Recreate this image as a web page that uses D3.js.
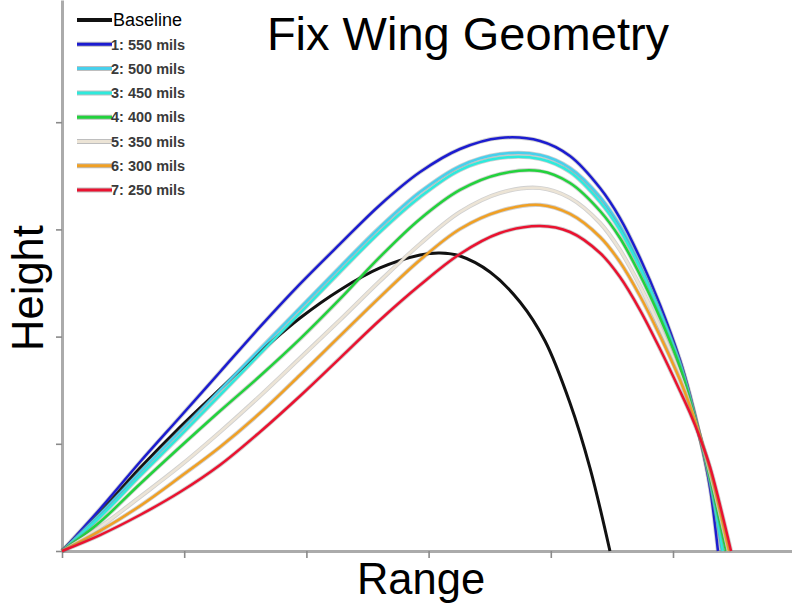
<!DOCTYPE html>
<html><head><meta charset="utf-8">
<script src="https://cdn.jsdelivr.net/npm/d3@7"></script>
<style>html,body{margin:0;padding:0;background:#fff;} svg{display:block;}</style>
</head><body>
<script>
// ---- data ----
const titleText = "Fix Wing Geometry";
const xLabel = "Range";
const yLabel = "Height";
const xTicks = [0, 1, 2, 3, 4, 5];
const yTicks = [0, 1, 2, 3, 4];

const seriesNames = ["1: 550 mils", "2: 500 mils", "3: 450 mils", "4: 400 mils", "5: 350 mils", "6: 300 mils", "7: 250 mils"];
const seriesColors = ["#1c1cd0", "#48d0ec", "#2eeadc", "#22d23c", "#ece4d6", "#f0a024", "#ea1230"];

const rangeX = [0, 0.311, 0.638, 0.966, 1.293, 1.620, 1.948, 2.275, 2.602, 2.930, 3.257, 3.584, 3.912, 4.157, 4.403, 4.566, 4.730, 4.894, 5.057, 5.139, 5.221, 5.303];
const h550 = [0, 0.392, 0.830, 1.250, 1.670, 2.090, 2.491, 2.864, 3.228, 3.535, 3.750, 3.853, 3.825, 3.685, 3.386, 3.106, 2.733, 2.295, 1.782, 1.455, 1.063, 0.588];
const h500 = [0, 0.345, 0.737, 1.119, 1.502, 1.884, 2.267, 2.649, 3.022, 3.349, 3.591, 3.703, 3.694, 3.573, 3.302, 3.032, 2.668, 2.239, 1.754, 1.437, 1.063, 0.644];
const h450 = [0, 0.317, 0.700, 1.073, 1.455, 1.838, 2.220, 2.603, 2.976, 3.302, 3.554, 3.666, 3.657, 3.535, 3.256, 2.994, 2.640, 2.220, 1.744, 1.427, 1.063, 0.662];
const h400 = [0, 0.271, 0.625, 0.970, 1.306, 1.632, 1.978, 2.351, 2.743, 3.097, 3.368, 3.517, 3.545, 3.433, 3.172, 2.920, 2.575, 2.174, 1.716, 1.409, 1.063, 0.681];
const h350 = [0, 0.224, 0.504, 0.793, 1.110, 1.446, 1.800, 2.155, 2.519, 2.864, 3.162, 3.340, 3.386, 3.293, 3.060, 2.808, 2.472, 2.080, 1.642, 1.371, 1.063, 0.718];
const h300 = [0, 0.187, 0.420, 0.690, 0.970, 1.287, 1.642, 2.006, 2.369, 2.715, 3.004, 3.172, 3.228, 3.144, 2.929, 2.696, 2.379, 2.006, 1.595, 1.353, 1.073, 0.756];
const h250 = [0, 0.149, 0.336, 0.550, 0.802, 1.110, 1.446, 1.800, 2.155, 2.481, 2.771, 2.966, 3.032, 2.976, 2.780, 2.556, 2.248, 1.884, 1.493, 1.287, 1.054, 0.784];
const landing = [5.368, 5.401, 5.409, 5.434, 5.450, 5.458, 5.475];

const baselineX = [0, 0.311, 0.638, 0.966, 1.293, 1.620, 1.948, 2.275, 2.602, 2.930, 3.093, 3.257, 3.502, 3.748, 3.953, 4.157, 4.321, 4.484];
const baselineH = [0, 0.364, 0.774, 1.157, 1.511, 1.856, 2.173, 2.435, 2.640, 2.761, 2.780, 2.752, 2.603, 2.323, 1.959, 1.381, 0.774, 0];

// ---- drawing ----
const W = 792, H = 604;
const svg = d3.select("body").append("svg").attr("width", W).attr("height", H)
  .style("font-family", "'Liberation Sans', Arial, sans-serif");
svg.append("rect").attr("width", W).attr("height", H).attr("fill", "#fff");

const x = d3.scaleLinear().domain([0, 6]).range([62, 62 + 6 * 122.2]);
const y = d3.scaleLinear().domain([0, 5.14]).range([551, 0]);

// axes
const xAxis = svg.append("g").attr("transform", `translate(0,${y(0)})`)
  .call(d3.axisBottom(x).tickValues(xTicks).tickSize(7).tickSizeOuter(0).tickFormat(""));
const yAxis = svg.append("g").attr("transform", `translate(${x(0)},0)`)
  .call(d3.axisLeft(y).tickValues(yTicks).tickSize(6).tickSizeOuter(0).tickFormat(""));
[xAxis, yAxis].forEach(g => {
  g.select(".domain").attr("stroke", "#ababab").attr("stroke-width", 3);
  g.selectAll(".tick line").attr("stroke", "#8a8a8a").attr("stroke-width", 1.6);
});

const line = d3.line().x(d => x(d[0])).y(d => y(d[1])).curve(d3.curveCatmullRom.alpha(0.5));

const plot = svg.append("g");
// baseline
const basePts = baselineX.map((v, i) => [v, baselineH[i]]);
plot.append("path").attr("d", line(basePts)).attr("fill", "none")
  .attr("stroke", "#111").attr("stroke-width", 3);

const heights = [h550, h500, h450, h400, h350, h300, h250];
heights.forEach((hs, k) => {
  const pts = rangeX.map((v, i) => [v, hs[i]]).concat([[landing[k], 0]]);
  plot.append("path").attr("d", line(pts)).attr("fill", "none")
    .attr("stroke", "rgba(120,120,120,0.35)").attr("stroke-width", 4.2);
  plot.append("path").attr("d", line(pts)).attr("fill", "none")
    .attr("stroke", seriesColors[k]).attr("stroke-width", 2.5);
});

// title and axis labels
svg.append("text").attr("x", 468).attr("y", 50).attr("text-anchor", "middle")
  .attr("font-size", 47).attr("fill", "#000").text(titleText);
svg.append("text").attr("x", 421).attr("y", 594).attr("text-anchor", "middle")
  .attr("font-size", 43.5).attr("fill", "#000").text(xLabel);
svg.append("text").attr("transform", "translate(43,288) rotate(-90)").attr("text-anchor", "middle")
  .attr("font-size", 43.5).attr("fill", "#000").text(yLabel);

// legend
const legend = svg.append("g");
const legNames = ["Baseline"].concat(seriesNames);
const legColors = ["#111"].concat(seriesColors);
legNames.forEach((name, i) => {
  const cy = 20 + i * 24.3;
  const g = legend.append("g").attr("transform", `translate(0,${cy})`);
  if (i > 0) g.append("line").attr("x1", 77).attr("x2", 112).attr("y1", 0).attr("y2", 0)
    .attr("stroke", "rgba(110,110,110,0.45)").attr("stroke-width", 5);
  g.append("line").attr("x1", 77).attr("x2", 112).attr("y1", 0).attr("y2", 0)
    .attr("stroke", legColors[i]).attr("stroke-width", i === 0 ? 4 : 3);
  g.append("text").attr("x", i === 0 ? 113 : 111).attr("y", 0).attr("dy", "0.36em")
    .attr("font-size", i === 0 ? 18 : 14.5)
    .attr("font-weight", i === 0 ? "normal" : "bold")
    .attr("fill", i === 0 ? "#000" : "#3a3a3a").text(name);
});
</script>
</body></html>
